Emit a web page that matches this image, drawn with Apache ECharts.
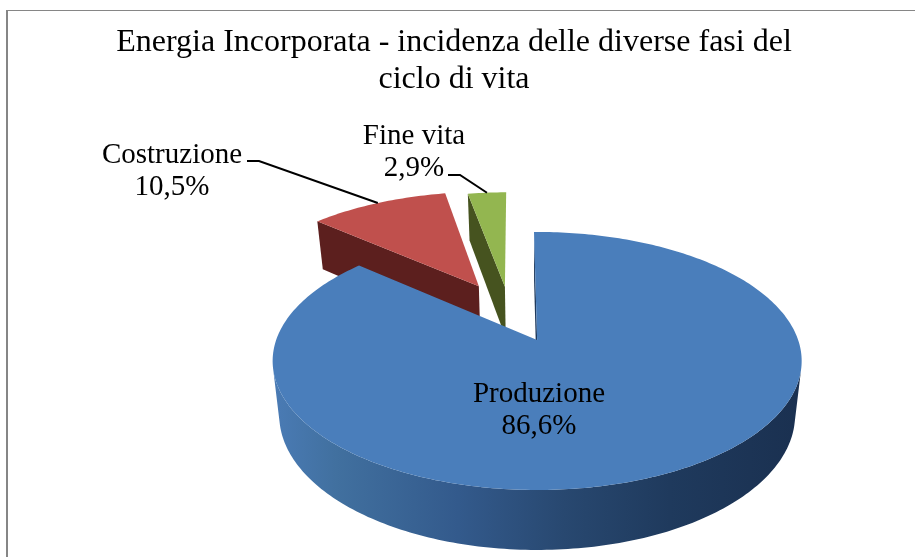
<!DOCTYPE html>
<html>
<head>
<meta charset="utf-8">
<title>Energia Incorporata</title>
<script src="https://cdn.jsdelivr.net/npm/echarts@6/dist/echarts.min.js"></script>
<style>
html,body{margin:0;padding:0;background:#fff;}
#chart{width:915px;height:557px;}
</style>
</head>
<body>
<div id="chart"></div>
<script>
// dati
var categories = ['Produzione', 'Costruzione', 'Fine vita'];
var values = [86.6, 10.5, 2.9];
var titleText = 'Energia Incorporata - incidenza delle diverse fasi del\nciclo di vita';

var topColors = ['#4a7ebb', '#c0504d', '#93b650'];
var wallColors = ['#345a8a', '#5c1f1e', '#46531f'];
var labelPos = [[539, 410], [172, 171], [414, 152]];
var labelLineStart = [null, [247, 161, 259, 161], [448, 175, 460, 175]];

// prospettiva della torta
var cx = 537, cy = 340, rx = 261, ry = 125.6, persp = 0.1628;
var pieX = -0.109, pieY = -0.236, startAngle = -0.8;
var explode = [0.26, 0.26, 0.22];
var total = values.reduce(function (a, b) { return a + b; }, 0);

function project(X, Y, low) {
  var s = 1 / (1 - persp * Y);
  var x = cx + rx * X * s, y = cy + ry * Y * s;
  if (low) {
    x = cx + (x - cx) * 0.975;
    y = y * 1.0448 + 38;
  }
  return [x, y];
}

function sliceInfo(idx) {
  var before = 0;
  for (var i = 0; i < idx; i++) before += values[i];
  var a0 = startAngle + before / total * 360;
  var a1 = a0 + values[idx] / total * 360;
  var m = (a0 + a1) / 2 * Math.PI / 180;
  return {
    a0: a0, a1: a1,
    ox: pieX + explode[idx] * Math.sin(m),
    oy: pieY - explode[idx] * Math.cos(m)
  };
}

function rimPoint(info, deg, low) {
  var r = deg * Math.PI / 180;
  return project(info.ox + Math.sin(r), info.oy - Math.cos(r), low);
}

function renderSlice(params, api) {
  var idx = params.dataIndex;
  var info = sliceInfo(idx);
  var apex = project(info.ox, info.oy, false);
  var apexLow = project(info.ox, info.oy, true);
  var rimTop = [], rimLow = [];
  for (var d = info.a0; d < info.a1; d += 1) {
    rimTop.push(rimPoint(info, d, false));
    rimLow.push(rimPoint(info, d, true));
  }
  rimTop.push(rimPoint(info, info.a1, false));
  rimLow.push(rimPoint(info, info.a1, true));
  var base = idx === 0 ? 10 : 0;
  var children = [];

  if (idx === 0) {
    // solo il tratto di bordo rivolto verso chi guarda
    var first = -1, lastFront = -1;
    for (var i = 0; i < rimTop.length - 1; i++) {
      var dx = rimTop[i + 1][0] - rimTop[i][0], dy = rimTop[i + 1][1] - rimTop[i][1];
      var sx = rimLow[i][0] - rimTop[i][0], sy = rimLow[i][1] - rimTop[i][1];
      if (dx * sy - dy * sx < 0) {
        if (first < 0) first = i;
        lastFront = i + 1;
      }
    }
    var rimFill = new echarts.graphic.LinearGradient(273, 0, 802, 0, [
      { offset: 0, color: '#4a7bb5' },
      { offset: 0.12, color: '#41709f' },
      { offset: 0.35, color: '#335a8c' },
      { offset: 0.55, color: '#284870' },
      { offset: 0.75, color: '#1f3a5d' },
      { offset: 1, color: '#1a3050' }
    ], true);
    children.push({ type: 'polygon', z2: base + 1, shape: { points: [apex, rimTop[0], rimLow[0], apexLow] }, style: { fill: '#1f3a5d' } });
    children.push({
      type: 'polygon', z2: base + 2,
      shape: { points: rimTop.slice(first, lastFront + 1).concat(rimLow.slice(first, lastFront + 1).reverse()) },
      style: { fill: rimFill }
    });
  } else {
    // di queste fette si vede solo la parete interna sinistra
    children.push({ type: 'polygon', z2: base + 1, shape: { points: [apex, rimTop[0], rimLow[0], apexLow] }, style: { fill: wallColors[idx] } });
  }

  // faccia superiore
  children.push({ type: 'polygon', z2: base + 4, shape: { points: [apex].concat(rimTop) }, style: { fill: topColors[idx] } });
  // etichetta
  children.push({
    type: 'text', z2: 30, x: labelPos[idx][0], y: labelPos[idx][1],
    style: {
      text: categories[idx] + '\n' + values[idx].toFixed(1).replace('.', ',') + '%',
      fill: '#000', font: '29px "Liberation Serif"', align: 'center',
      verticalAlign: 'middle', lineHeight: 32
    }
  });

  if (labelLineStart[idx]) {
    var s = labelLineStart[idx];
    var end = rimPoint(info, (info.a0 + info.a1) / 2, false);
    children.push({
      type: 'polyline', z2: 20,
      shape: { points: [[s[0], s[1]], [s[2], s[3]], end] },
      style: { stroke: '#000', lineWidth: 2, fill: null }
    });
  }

  return { type: 'group', children: children };
}

var chart = echarts.init(document.getElementById('chart'));
chart.setOption({
  animation: false,
  backgroundColor: '#fff',
  title: {
    text: titleText,
    left: 449,
    top: 19,
    textAlign: 'center',
    textStyle: {
      color: '#000',
      fontFamily: 'Liberation Serif',
      fontWeight: 'normal',
      fontSize: 32,
      lineHeight: 37
    }
  },
  graphic: [
    { type: 'rect', shape: { x: 6, y: 10, width: 2, height: 547 }, style: { fill: '#868686' } },
    { type: 'rect', shape: { x: 6, y: 10, width: 909, height: 1 }, style: { fill: '#868686' } }
  ],
  series: [{
    type: 'custom',
    coordinateSystem: 'none',
    renderItem: renderSlice,
    data: values.map(function (v, i) { return { name: categories[i], value: v }; })
  }]
});
</script>
</body>
</html>
